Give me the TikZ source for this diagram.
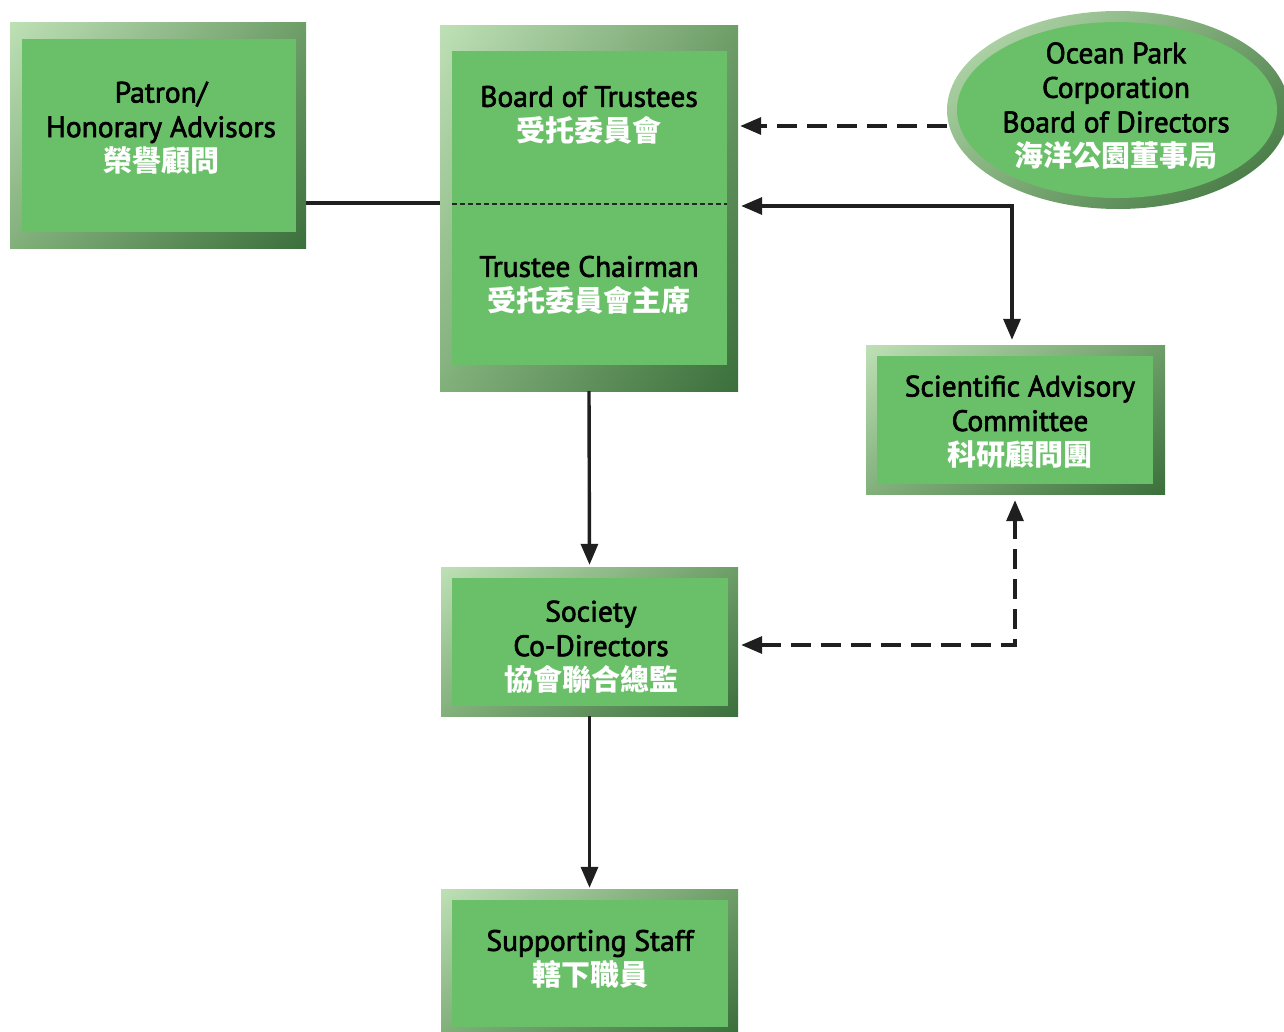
\documentclass[tikz,border=0pt]{standalone}
\usepackage{fontspec}
\setmainfont{PT Sans}
\newfontfamily\enf{PT Sans}[FakeBold=2.2]
\newfontfamily\cjk{Noto Sans CJK TC}
\usetikzlibrary{arrows.meta,shapes.geometric,shadings}
\definecolor{frUL}{HTML}{BEE0B6}
\definecolor{frUR}{HTML}{6E9E68}
\definecolor{frLL}{HTML}{82B07B}
\definecolor{frLR}{HTML}{3B6F3B}
\definecolor{body}{HTML}{6ABF69}
\tikzset{
  frame/.style={rectangle, draw=none, inner sep=0pt,
    upper left=frUL, upper right=frUR, lower left=frLL, lower right=frLR},
  oframe/.style={ellipse, draw=none, inner sep=0pt,
    upper left=frUL, upper right=frUR, lower left=frLL, lower right=frLR},
  bodybox/.style={rectangle, fill=body, draw=none, inner sep=0pt},
  bodyell/.style={ellipse, fill=body, draw=none, inner sep=0pt},
  txt/.style={align=center, text=black, font=\enf\fontsize{29.5}{34.5}\selectfont, inner sep=0pt},
  conn/.style={line width=3.4pt, draw=black!88},
  tip/.style={-{Triangle[length=21pt,width=17pt]}},
  tips/.style={{Triangle[length=21pt,width=17pt]}-{Triangle[length=21pt,width=17pt]}},
  dsh/.style={dash pattern=on 20pt off 10pt},
}
\newcommand{\zhtxt}[1]{{\cjk\bfseries\fontsize{29}{34.5}\selectfont\color{white}#1}}
\begin{document}
\begin{tikzpicture}[x=1pt,y=-1pt]
\useasboundingbox (0,0) rectangle (1284,1031);
% frames
\node[frame, minimum width=296pt, minimum height=226pt] (patronF) at (158,135) {};
\node[bodybox, minimum width=274pt, minimum height=193pt] (patron) at (159,135.5) {};
\node[frame, minimum width=298pt, minimum height=366pt] (boardF) at (589,208) {};
\node[bodybox, minimum width=275pt, minimum height=314pt] (board) at (589.5,208) {};
\node[oframe, minimum width=342pt, minimum height=198pt] (ocF) at (1118,110) {};
\node[bodyell, minimum width=320pt, minimum height=176pt] (oc) at (1117,110) {};
\node[frame, minimum width=299pt, minimum height=149pt] (sciF) at (1015.5,419.5) {};
\node[bodybox, minimum width=276pt, minimum height=128pt] (sci) at (1015,420) {};
\node[frame, minimum width=297pt, minimum height=149pt] (socF) at (589.5,641.5) {};
\node[bodybox, minimum width=276pt, minimum height=128pt] (soc) at (590,642) {};
\node[frame, minimum width=297pt, minimum height=142pt] (supF) at (589.5,960) {};
\node[bodybox, minimum width=276pt, minimum height=127pt] (sup) at (590,963.5) {};
% divider
\coordinate (divW) at (452,204);
\coordinate (divE) at (727,204);
\draw[line width=2pt, black!85, dash pattern=on 4.5pt off 3.5pt] (divW) -- (divE);
% texts
\node[txt] (tPatron) at (161,128) {Patron/\\Honorary Advisors\\\zhtxt{榮譽顧問}};
\node[txt] (tBoard) at (589,115) {Board of Trustees\\\zhtxt{受托委員會}};
\node[txt] (tChair) at (589,285) {Trustee Chairman\\\zhtxt{受托委員會主席}};
\node[txt] (tOc) at (1116,106) {Ocean Park\\Corporation\\Board of Directors\\\zhtxt{海洋公園董事局}};
\node[txt] (tSci) at (1020,422) {Scientific Advisory\\Committee\\\zhtxt{科研顧問團}};
\node[txt] (tSoc) at (591,647) {Society\\Co-Directors\\\zhtxt{協會聯合總監}};
\node[txt] (tSup) at (590,959) {Supporting Staff\\\zhtxt{轄下職員}};
% connectors
\coordinate (pj) at (0,203);
\draw[conn] (patronF.east |- pj) -- (boardF.west |- pj);
\coordinate (oj) at (947,126);
\draw[conn, dsh, tip] (oj) -- ([xshift=2pt]boardF.east |- oj);
\coordinate (c1) at (1012,206);
\draw[conn, tips] ([xshift=3pt]boardF.east |- c1) -- (c1) -- ([yshift=5pt]sciF.north -| c1);
\draw[conn, tip] (boardF.south) -- ([yshift=2pt]socF.north);
\draw[conn, tip] (socF.south) -- ([yshift=1pt]supF.north);
\coordinate (c2) at (1015,645);
\draw[conn, dsh, tips] ([xshift=3pt]socF.east |- c2) -- (c2) -- ([yshift=-6pt]sciF.south -| c2);
\end{tikzpicture}
\end{document}
